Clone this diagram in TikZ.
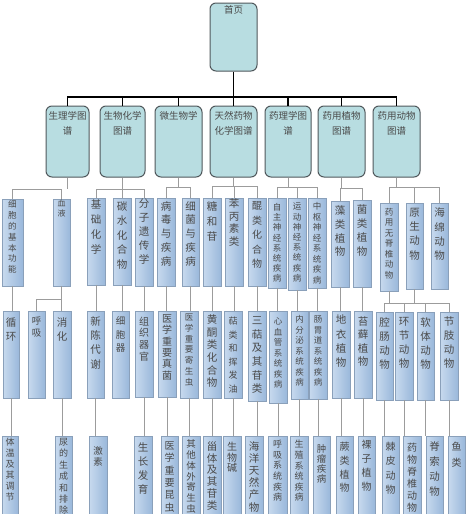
\documentclass[tikz,border=0pt]{standalone}
\usepackage{fontspec}
\newfontfamily\cjk{Noto Sans CJK SC}
\definecolor{catfill}{HTML}{B8DDE1}
\definecolor{catdraw}{HTML}{50585C}
\definecolor{boxl}{HTML}{C8DAEE}
\definecolor{boxr}{HTML}{9AB8DB}
\definecolor{boxdraw}{HTML}{8AA0BA}
\definecolor{txt}{HTML}{4A4A4A}
\definecolor{lnc}{HTML}{9C9C9C}
\tikzset{
 rowbox/.style={draw=boxdraw, line width=0.8pt, left color=boxl, right color=boxr, inner sep=0pt},
 vlab/.style={anchor=north, align=center, inner sep=0pt, text=txt},
 catbox/.style={draw=catdraw, fill=catfill, line width=1pt, rounded corners=6pt, inner sep=0pt},
 mainln/.style={line width=1.6pt, black},
 conn/.style={line width=1pt, lnc},
}
% name, x1, y1, x2, y2, font size, line spacing, text, vertical shift of text
\newcommand{\bx}[9]{\node[rowbox, minimum width={(#4-#2)*1pt}, minimum height={(#5-#3)*1pt}, label={[vlab, yshift=#9pt, font=\cjk\fontsize{#6}{#7}\selectfont]north:{#8}}] (#1) at ({(#2+#4)/2},{(#3+#5)/2}) {};}
\newcommand{\cat}[4]{\node[catbox, minimum width={(#3-#2)*1pt}, minimum height=71pt, label={[vlab, yshift=-6pt, font=\cjk\fontsize{9.5}{15}\selectfont]north:{#4}}] (#1) at ({(#2+#3)/2},141.5) {};}
\begin{document}
\begin{tikzpicture}[x=1pt,y=-1pt]
\clip (0,0) rectangle (475,514);
\fill[white] (0,0) rectangle (475,514);
% root
\node[catbox, minimum width=47pt, minimum height=68pt, label={[vlab, yshift=-3pt, font=\cjk\fontsize{9.5}{12}\selectfont]north:{首页}}] (root) at (233.5,37) {};
% categories
\cat{k1}{46}{89}{生理学图\\谱}
\cat{k2}{100}{145}{生物化学\\图谱}
\cat{k3}{155}{202}{微生物学}
\cat{k4}{210}{257}{天然药物\\化学图谱}
\cat{k5}{265}{311}{药理学图\\谱}
\cat{k6}{318}{365}{药用植物\\图谱}
\cat{k7}{373}{420}{药用动物\\图谱}
% row A
\bx{a1}{2}{199}{23}{286}{8.5}{10.8}{细\\胞\\的\\基\\本\\功\\能}{-2}
\bx{a2}{53}{199}{70}{286}{8}{10}{血\\液}{-1}
\bx{a3}{87}{198}{105}{285}{10.5}{15}{基\\础\\化\\学}{-1.5}
\bx{a4}{113}{198}{131}{285}{10.5}{14.6}{碳\\水\\化\\合\\物}{-3.5}
\bx{a5}{135}{198}{153}{286}{10.5}{13.8}{分\\子\\遗\\传\\学}{-1.5}
\bx{a6}{157}{198}{175}{286}{10.5}{13.8}{病\\毒\\与\\疾\\病}{-3.5}
\bx{a7}{182}{198}{199}{286}{10.5}{13.8}{细\\菌\\与\\疾\\病}{-3.5}
\bx{a8}{203}{198}{221}{286}{10.5}{15}{糖\\和\\苷}{-3.5}
\bx{a9}{225}{198}{243}{286}{10.5}{12.5}{苯\\丙\\素\\类}{-1}
\bx{a10}{248}{198}{266}{286}{10}{14.4}{醌\\类\\化\\合\\物}{-4}
\bx{a11}{268}{198}{286}{288}{8.5}{10.2}{自\\主\\神\\经\\系\\统\\疾\\病}{-5.5}
\bx{a12}{288}{198}{306}{290}{8.5}{10.2}{运\\动\\神\\经\\系\\统\\疾\\病}{-5.5}
\bx{a13}{308}{198}{326}{288}{8.5}{10.5}{中\\枢\\神\\经\\系\\统\\疾\\病}{-5}
\bx{a14}{331}{201}{349}{287}{10.5}{13.7}{藻\\类\\植\\物}{-5}
\bx{a15}{353}{200}{371}{287}{10.5}{13.9}{菌\\类\\植\\物}{-5}
\bx{a16}{380}{203}{398}{291}{8.5}{10.5}{药\\用\\无\\脊\\椎\\动\\物}{-5.5}
\bx{a17}{406}{203}{423}{289}{10.5}{14.4}{原\\生\\动\\物}{-5}
\bx{a18}{431}{203}{448}{289}{10.5}{14.4}{海\\绵\\动\\物}{-5}
% row B
\bx{b1}{3}{311}{19}{398}{10.5}{14}{循\\环}{-6.5}
\bx{b2}{28}{311}{45}{398}{9.5}{12}{呼\\吸}{-6}
\bx{b3}{53}{311}{71}{398}{10.5}{14}{消\\化}{-6.5}
\bx{b4}{87}{311}{104}{398}{10.5}{14.4}{新\\陈\\代\\谢}{-5.5}
\bx{b5}{112}{311}{129}{398}{9.5}{13.3}{细\\胞\\器}{-6}
\bx{b6}{135}{311}{153}{397}{10}{11.7}{组\\织\\器\\官}{-6}
\bx{b7}{158}{311}{176}{397}{10}{11.3}{医\\学\\重\\要\\真\\菌}{-4}
\bx{b8}{180}{311}{198}{398}{8.5}{10.8}{医\\学\\重\\要\\寄\\生\\虫}{-3}
\bx{b9}{203}{311}{221}{398}{10.5}{12.6}{黄\\酮\\类\\化\\合\\物}{-4}
\bx{b10}{224}{311}{242}{398}{9}{13.5}{萜\\类\\和\\挥\\发\\油}{-6.5}
\bx{b11}{248}{311}{266}{401}{10.5}{13.6}{三\\萜\\及\\其\\苷\\类}{-6}
\bx{b12}{269}{311}{287}{403}{8.5}{10.5}{心\\血\\管\\系\\统\\疾\\病}{-7}
\bx{b13}{291}{311}{308}{399}{8.5}{10.5}{内\\分\\泌\\系\\统\\疾\\病}{-5}
\bx{b14}{309}{311}{327}{399}{8.5}{10.5}{肠\\胃\\道\\系\\统\\疾\\病}{-5}
\bx{b15}{332}{311}{350}{398}{10.5}{14.4}{地\\衣\\植\\物}{-4}
\bx{b16}{354}{311}{372}{398}{10.5}{13.3}{苔\\藓\\植\\物}{-6}
\bx{b17}{376}{312}{393}{400}{10.5}{14}{腔\\肠\\动\\物}{-6}
\bx{b18}{395}{312}{413}{400}{10.5}{14}{环\\节\\动\\物}{-6}
\bx{b19}{417}{312}{434}{400}{10.5}{14}{软\\体\\动\\物}{-6}
\bx{b20}{440}{312}{458}{400}{10.5}{14}{节\\肢\\动\\物}{-5}
% row C
\bx{c1}{2}{436}{18}{522}{9}{11}{体\\温\\及\\其\\调\\节}{-2.5}
\bx{c2}{55}{436}{72}{522}{9}{11.4}{尿\\的\\生\\成\\和\\排\\除}{-2.5}
\bx{c3}{89}{436}{107}{522}{9.5}{11}{激\\素}{-11}
\bx{c4}{134}{436}{152}{522}{10.5}{14}{生\\长\\发\\育}{-6.5}
\bx{c5}{161}{436}{178}{522}{10}{12.3}{医\\学\\重\\要\\昆\\虫}{-6}
\bx{c6}{182}{436}{200}{522}{9.5}{10.8}{其\\他\\体\\外\\寄\\生\\虫}{-4}
\bx{c7}{203}{436}{221}{522}{10.5}{11.9}{甾\\体\\及\\其\\苷\\类}{-5.5}
\bx{c8}{223}{436}{241}{522}{10}{10.8}{生\\物\\碱}{-6}
\bx{c9}{245}{436}{263}{522}{10.5}{12.2}{海\\洋\\天\\然\\产\\物}{-5.5}
\bx{c10}{268}{436}{287}{522}{9}{10.6}{呼\\吸\\系\\统\\疾\\病}{-4.5}
\bx{c11}{290}{436}{308}{522}{9}{10.6}{生\\殖\\系\\统\\疾\\病}{-4.5}
\bx{c12}{313}{436}{330}{522}{9.5}{10}{肿\\瘤\\疾\\病}{-9}
\bx{c13}{336}{436}{353}{522}{10}{13.9}{蕨\\类\\植\\物}{-6}
\bx{c14}{358}{436}{375}{522}{10}{14}{裸\\子\\植\\物}{-4}
\bx{c15}{382}{436}{399}{522}{10}{14.4}{棘\\皮\\动\\物}{-6}
\bx{c16}{403}{436}{421}{522}{10}{12}{药\\物\\脊\\椎\\动\\物}{-7}
\bx{c17}{426}{436}{443}{522}{10.5}{15}{脊\\索\\动\\物}{-5.5}
\bx{c18}{448}{436}{465}{522}{10}{16}{鱼\\类}{-6}
% top connectors
\draw[mainln] (root.south) -- (root.south |- 0,97);
\draw[mainln] (k1.north) |- (k7.north |- 0,97) -- (k7.north);
\foreach \k in {k2,k3,k4,k5,k6} \draw[mainln] (\k.north) -- (\k.north |- 0,97);
% category -> row A
\draw[conn] (k1.south) -- (k1.south |- 0,189);
\draw[conn] (a1.north) |- (a2.north |- 0,189) -- (a2.north);
\draw[conn] (k2.south) -- (k2.south |- 0,189);
\draw[conn] (a3.north) |- (a5.north |- 0,189) -- (a5.north);
\draw[conn] (a4.north) -- (a4.north |- 0,189);
\draw[conn] (k3.south) -- (k3.south |- 0,187);
\draw[conn] (a6.north) |- (a7.north |- 0,187) -- (a7.north);
\draw[conn] (k4.south) -- (k4.south |- 0,186);
\draw[conn] (a8.north) |- (a10.north |- 0,186) -- (a10.north);
\draw[conn] (a9.north) -- (a9.north |- 0,186);
\draw[conn] (k5.south) -- (k5.south |- 0,187);
\draw[conn] (a11.north) |- (a13.north |- 0,187) -- (a13.north);
\draw[conn] (a12.north) -- (a12.north |- 0,187);
\draw[conn] (k6.south) -- (k6.south |- 0,188);
\draw[conn] (a14.north) |- (a15.north |- 0,188) -- (a15.north);
\draw[conn] (k7.south) -- (k7.south |- 0,187);
\draw[conn] (a16.north) |- (a18.north |- 0,187) -- (a18.north);
\draw[conn] (a17.north) -- (a17.north |- 0,187);
% row A -> row B
\draw[conn] (a1.south) -- (a1.south |- b1.north);
\draw[conn] (a2.south) -- (a2.south |- b3.north);
\draw[conn] (a2.south |- 0,299) -| (b2.north);
\foreach \p/\c in {a3/b4,a4/b5,a5/b6,a6/b7,a7/b8,a8/b9,a9/b10,a10/b11,a11/b12,a12/b13,a13/b14,a14/b15,a15/b16}
  \draw[conn] (\p.south) -- (\p.south |- \c.north);
\draw[conn] (a16.south) -- (a16.south |- 0,303);
\draw[conn] (a17.south) -- (a17.south |- 0,303);
\draw[conn] (b17.north |- 0,303) -- (b20.north |- 0,303);
\foreach \c in {b17,b18,b19,b20} \draw[conn] (\c.north) -- (\c.north |- 0,303);
% row B -> row C
\foreach \p/\c in {b1/c1,b3/c2,b4/c3,b6/c4,b7/c5,b8/c6,b9/c7,b10/c8,b11/c9,b12/c10,b13/c11,b14/c12,b15/c13,b16/c14,b17/c15,b18/c16,b19/c17,b20/c18}
  \draw[conn] (\p.south) -- (\p.south |- \c.north);
\end{tikzpicture}
\end{document}
